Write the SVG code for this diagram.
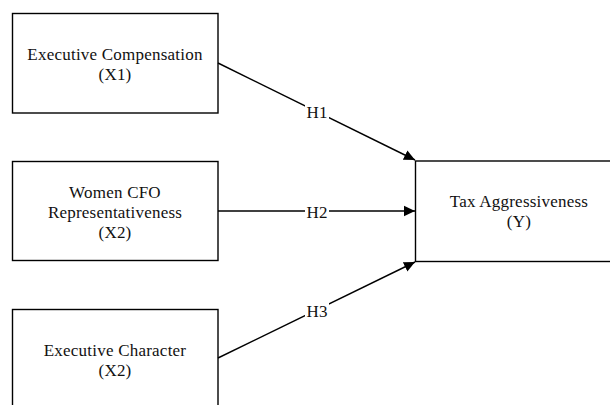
<svg xmlns="http://www.w3.org/2000/svg" width="610" height="405" viewBox="0 0 610 405">
  <style>
    .box { fill: #fff; stroke: #000; stroke-width: 1.4; }
    .t { font-family: "Liberation Serif", "Times New Roman", serif; font-size: 17px; letter-spacing: 0.22px; fill: #111; text-anchor: middle; }
    .edge { stroke: #000; stroke-width: 1.4; fill: none; marker-end: url(#arr); }
    .lblbg { fill: #fff; }
  </style>
  <defs>
    <marker id="arr" markerUnits="userSpaceOnUse" markerWidth="12" markerHeight="12" viewBox="0 0 12 12" refX="11" refY="6" orient="auto">
      <path d="M0,0.8 L11,6 L0,11.2 Z" fill="#000"/>
    </marker>
  </defs>
  <rect width="610" height="405" fill="#fff"/>
  <g id="x1">
    <rect class="box" x="12.5" y="13.5" width="205.5" height="99.5"/>
    <text class="t" x="115" y="59.5">Executive Compensation</text>
    <text class="t" x="115" y="79.5">(X1)</text>
  </g>
  <g id="x2">
    <rect class="box" x="12.5" y="161.5" width="205.5" height="99"/>
    <text class="t" x="115" y="197.5">Women CFO</text>
    <text class="t" x="115" y="217.5">Representativeness</text>
    <text class="t" x="115" y="237.5">(X2)</text>
  </g>
  <g id="x3">
    <rect class="box" x="12.5" y="309.5" width="205.5" height="100"/>
    <text class="t" x="115" y="356">Executive Character</text>
    <text class="t" x="115" y="376">(X2)</text>
  </g>
  <g id="y">
    <rect class="box" x="415.5" y="161" width="208" height="100.5"/>
    <text class="t" x="519" y="206.5">Tax Aggressiveness</text>
    <text class="t" x="519" y="227">(Y)</text>
  </g>
  <g id="connectors">
    <line class="edge" x1="218" y1="63" x2="415" y2="160"/>
    <line class="edge" x1="218" y1="211" x2="415" y2="211"/>
    <line class="edge" x1="218" y1="358" x2="415" y2="262"/>
    <rect class="lblbg" x="305" y="103" width="24" height="18"/>
    <text class="t" x="317" y="117.5">H1</text>
    <rect class="lblbg" x="305" y="203" width="24" height="17"/>
    <text class="t" x="317" y="217.5">H2</text>
    <rect class="lblbg" x="305" y="302" width="24" height="18"/>
    <text class="t" x="317" y="316.5">H3</text>
  </g>
</svg>
